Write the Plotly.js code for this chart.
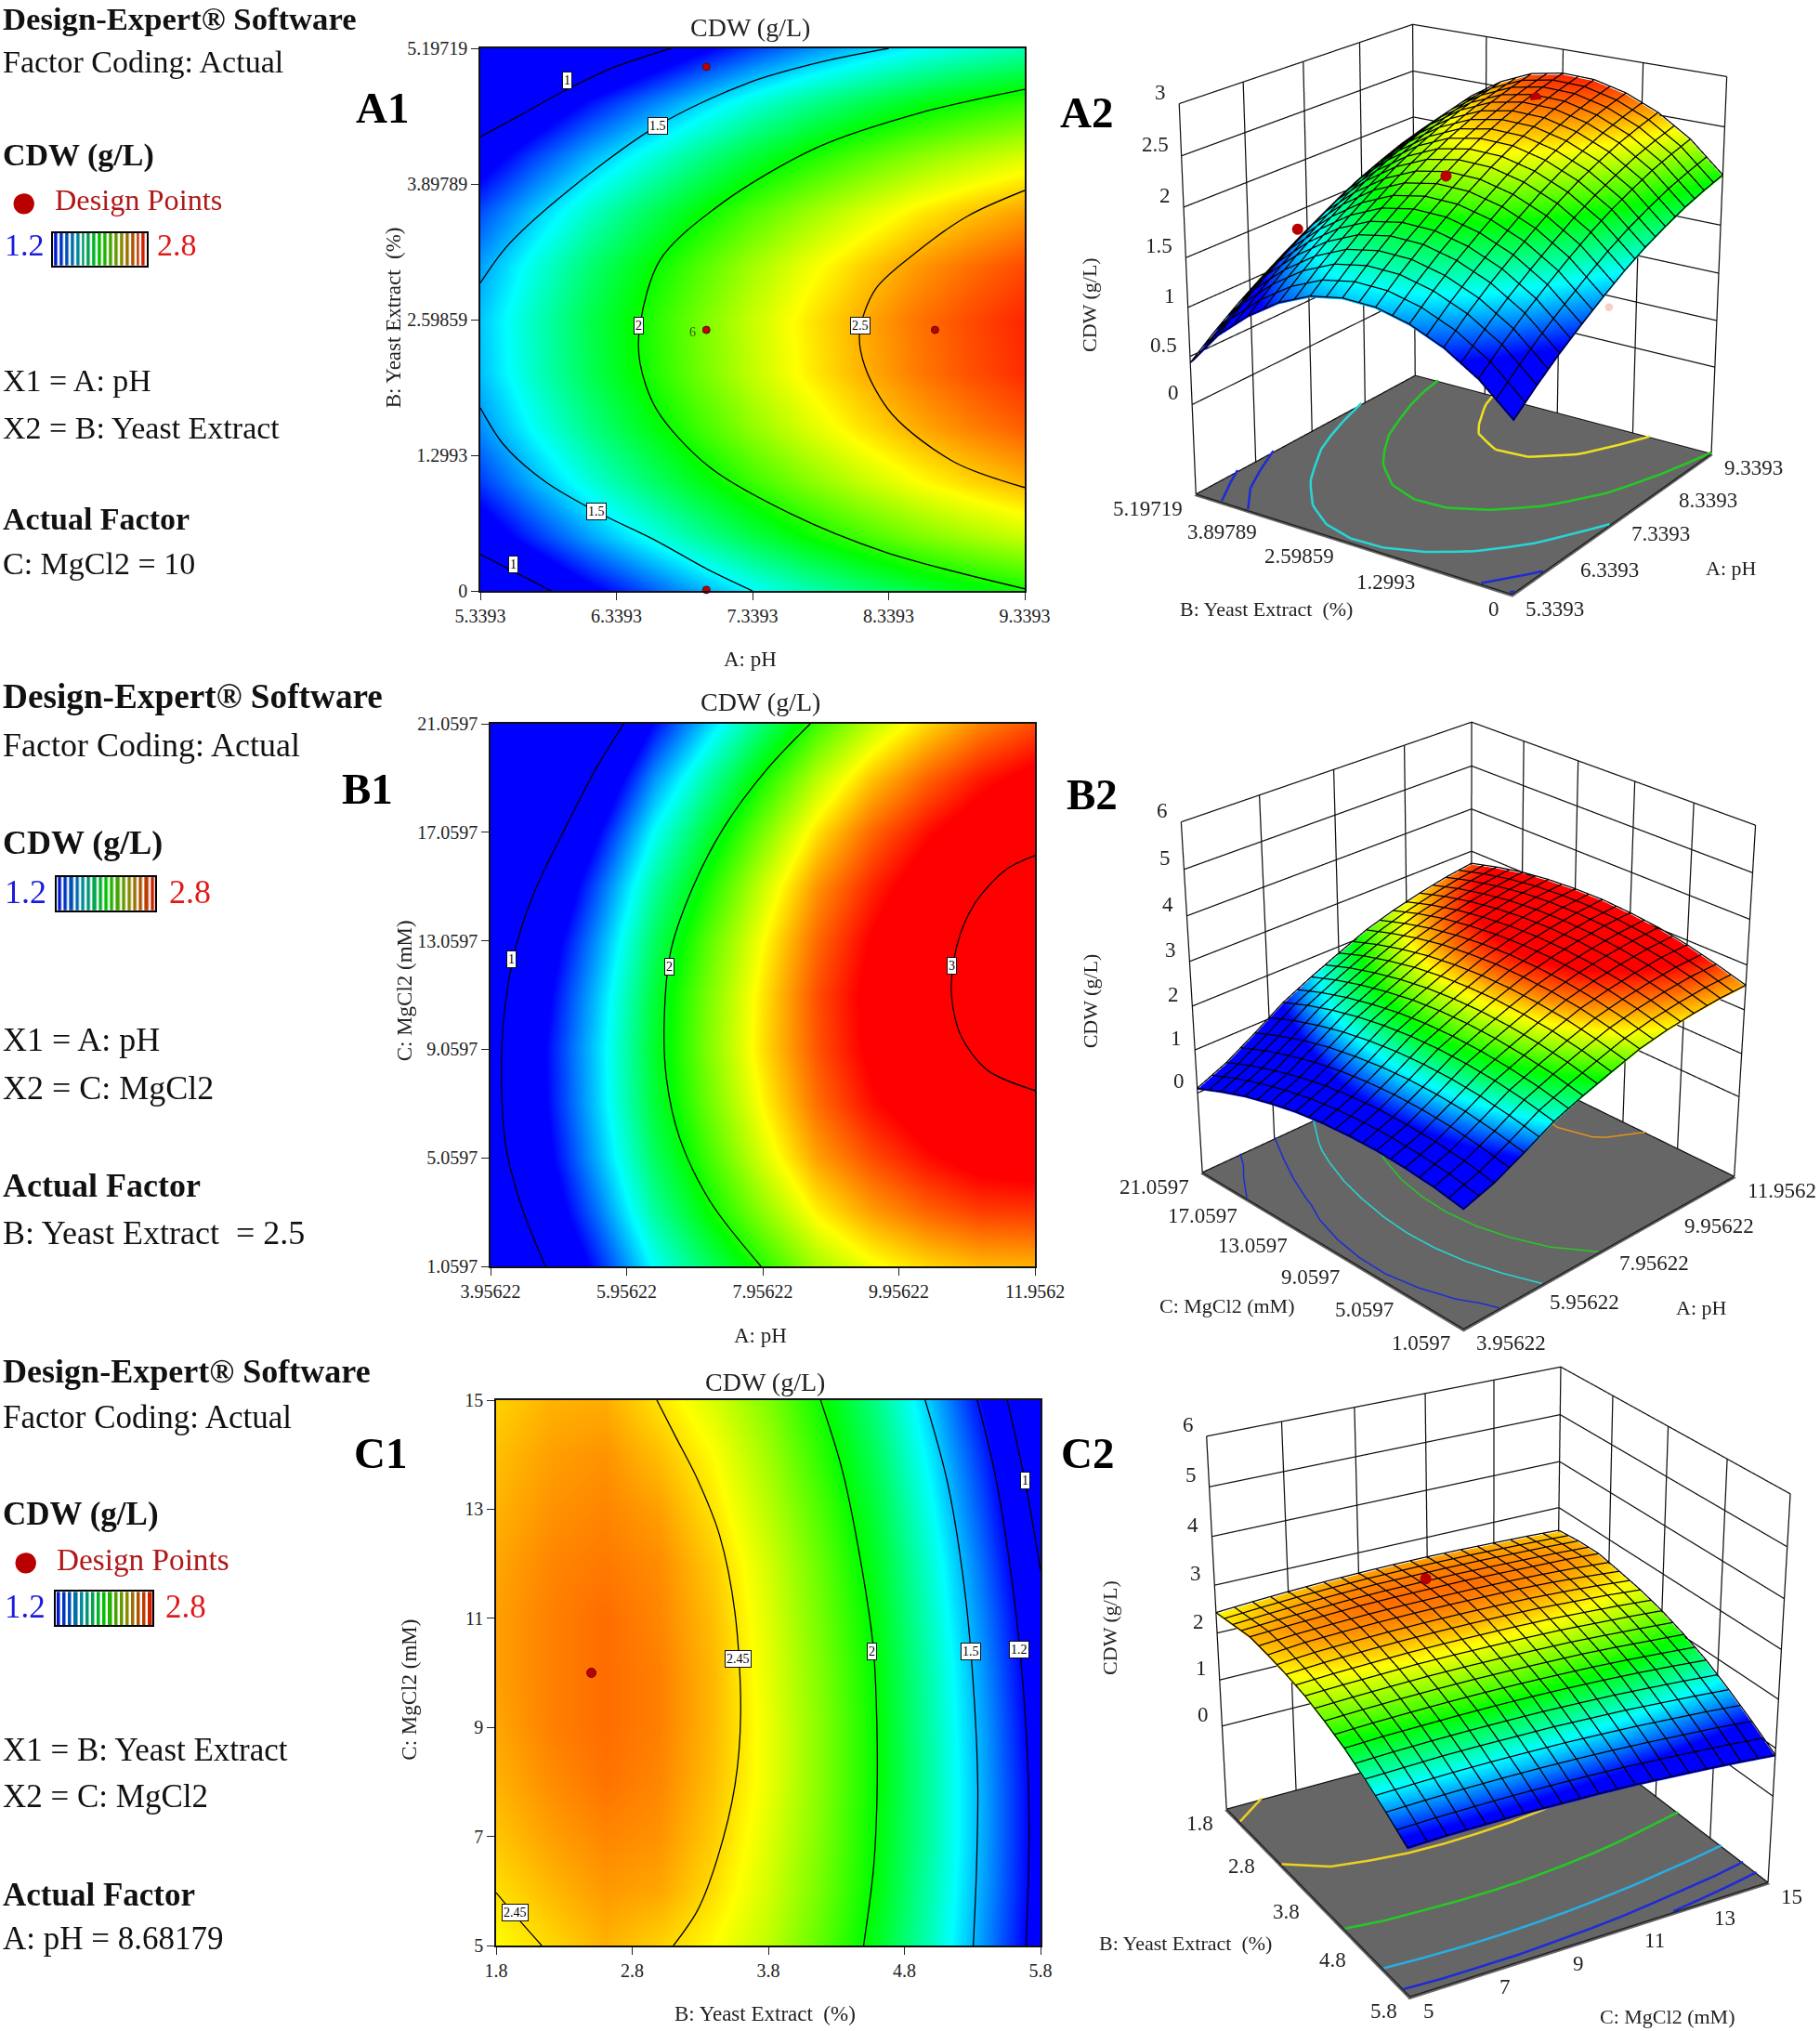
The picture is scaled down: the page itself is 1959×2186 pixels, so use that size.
<!DOCTYPE html>
<html><head><meta charset="utf-8">
<script src="https://cdn.plot.ly/plotly-3.0.1.min.js"></script>
<style>html,body{margin:0;padding:0;background:#fff;overflow:hidden;width:1959px;height:2186px}#g{position:absolute;left:0;top:-1000px}</style>
</head><body><div id="g"></div>
<script>
// ---------- data ----------
const aX=[5.3393,5.7393,6.1393,6.5393,6.9393,7.3393,7.7393,8.1393,8.5393,8.9393,9.3393];
const aY=[0,0.51972,1.03944,1.55916,2.07888,2.59859,3.11831,3.63803,4.15775,4.67747,5.19719];
const aZ=[
[0.73,0.93,1.11,1.27,1.42,1.56,1.68,1.78,1.87,1.94,2.00],
[1.03,1.23,1.41,1.57,1.72,1.86,1.98,2.08,2.17,2.24,2.30],
[1.24,1.44,1.62,1.78,1.93,2.07,2.19,2.29,2.38,2.45,2.51],
[1.38,1.58,1.76,1.92,2.07,2.21,2.33,2.43,2.52,2.59,2.65],
[1.46,1.66,1.84,2.00,2.15,2.29,2.41,2.51,2.60,2.67,2.73],
[1.47,1.67,1.85,2.01,2.16,2.30,2.42,2.52,2.61,2.68,2.74],
[1.41,1.61,1.79,1.95,2.10,2.24,2.36,2.46,2.55,2.62,2.68],
[1.27,1.47,1.65,1.81,1.96,2.10,2.22,2.32,2.41,2.48,2.54],
[1.06,1.26,1.44,1.60,1.75,1.89,2.01,2.11,2.20,2.27,2.33],
[0.79,0.99,1.17,1.33,1.48,1.62,1.74,1.84,1.93,2.00,2.06],
[0.42,0.62,0.80,0.96,1.11,1.25,1.37,1.47,1.56,1.63,1.69]];
const bX=[3.95622,4.75622,5.55622,6.35622,7.15622,7.95622,8.75622,9.55622,10.35622,11.15622,11.95622];
const bY=[1.0597,3.0597,5.0597,7.0597,9.0597,11.0597,13.0597,15.0597,17.0597,19.0597,21.0597];
const bZ=[
[.72,.94,1.26,1.61,1.85,2.06,2.26,2.38,2.46,2.51,2.52],
[.84,1.07,1.39,1.75,2.00,2.22,2.42,2.55,2.64,2.70,2.71],
[.91,1.15,1.49,1.85,2.10,2.34,2.55,2.68,2.78,2.85,2.87],
[.95,1.19,1.54,1.91,2.17,2.41,2.63,2.78,2.88,2.95,2.99],
[.94,1.20,1.55,1.93,2.20,2.45,2.67,2.83,2.94,3.02,3.06],
[.90,1.16,1.52,1.91,2.19,2.44,2.68,2.84,2.96,3.05,3.10],
[.82,1.09,1.45,1.85,2.14,2.40,2.64,2.81,2.94,3.04,3.09],
[.69,.97,1.35,1.75,2.04,2.32,2.57,2.74,2.88,2.99,3.05],
[.53,.81,1.20,1.61,1.91,2.19,2.45,2.64,2.78,2.89,2.97],
[.32,.62,1.01,1.43,1.74,2.03,2.29,2.49,2.64,2.76,2.84],
[.08,.38,.78,1.21,1.53,1.82,2.10,2.30,2.46,2.59,2.68]];
const cX=[1.8,2.2,2.6,3.0,3.4,3.8,4.2,4.6,5.0,5.4,5.8];
const cY=[5,6,7,8,9,10,11,12,13,14,15];
const cZ=[
[2.40,2.46,2.52,2.47,2.40,2.30,2.14,1.95,1.70,1.42,1.11],
[2.45,2.51,2.56,2.54,2.45,2.33,2.17,1.98,1.72,1.44,1.13],
[2.49,2.55,2.59,2.57,2.48,2.35,2.19,1.99,1.74,1.45,1.13],
[2.52,2.58,2.62,2.59,2.50,2.37,2.20,2.00,1.74,1.45,1.13],
[2.54,2.60,2.63,2.60,2.51,2.37,2.20,2.00,1.73,1.44,1.11],
[2.55,2.60,2.63,2.60,2.51,2.36,2.19,1.99,1.72,1.42,1.09],
[2.55,2.60,2.63,2.59,2.50,2.35,2.17,1.97,1.69,1.39,1.06],
[2.54,2.59,2.61,2.58,2.48,2.33,2.15,1.94,1.66,1.35,1.01],
[2.52,2.57,2.59,2.55,2.44,2.29,2.11,1.90,1.61,1.30,0.96],
[2.50,2.55,2.57,2.50,2.40,2.25,2.06,1.85,1.56,1.25,0.90],
[2.47,2.52,2.53,2.44,2.34,2.20,2.01,1.79,1.50,1.18,0.83]];
const aXTicks=[5.3393,6.3393,7.3393,8.3393,9.3393], aXText=['5.3393','6.3393','7.3393','8.3393','9.3393'];
const aYTicks=[0,1.2993,2.59859,3.89789,5.19719], aYText=['0','1.2993','2.59859','3.89789','5.19719'];
const bXTicks=[3.95622,5.95622,7.95622,9.95622,11.95622], bXText=['3.95622','5.95622','7.95622','9.95622','11.9562'];
const bYTicks=[1.0597,5.0597,9.0597,13.0597,17.0597,21.0597], bYText=['1.0597','5.0597','9.0597','13.0597','17.0597','21.0597'];
const cXTicks=[1.8,2.8,3.8,4.8,5.8], cXText=['1.8','2.8','3.8','4.8','5.8'];
const cYTicks=[5,7,9,11,13,15], cYText=['5','7','9','11','13','15'];
const aZTicks=[0,0.5,1,1.5,2,2.5,3], aZText=['0','0.5','1','1.5','2','2.5','3'];
const bZTicks=[0,1,2,3,4,5,6], bZText=['0','1','2','3','4','5','6'];
const cZTicks=[0,1,2,3,4,5,6], cZText=['0','1','2','3','4','5','6'];
// contour curves of the 2D panels
const aCurves=[
 [[5.34,5.61,5.986,6.31,6.74],[4.35,4.54,4.81,5.01,5.197]],
 [[5.34,5.585,5.86],[0.35,0.186,0]],
 [[5.34,5.535,5.91,6.64,7.31,7.865,8.34],[2.95,3.30,3.754,4.455,4.867,5.073,5.197]],
 [[5.34,5.51,5.81,6.186,6.61,7.01,7.34],[1.753,1.402,1.052,0.763,0.495,0.206,0]],
 [[9.339,8.567,7.815,7.113,6.663,6.512,6.512,6.637,7.013,7.615,8.316,9.339],[4.805,4.578,4.248,3.712,3.176,2.545,2.186,1.732,1.196,0.742,0.371,0.02]],
 [[9.339,8.918,8.517,8.241,8.126,8.166,8.366,8.817,9.339],[3.836,3.589,3.217,2.887,2.475,2.145,1.691,1.237,0.99]]];
const bCurves=[
 [[5.914,5.507,5.055,4.602,4.312,4.15,4.118,4.182,4.409,4.764],[21.06,19.41,17.22,14.87,12.68,10.17,7.825,5.476,3.284,1.06]],
 [[8.654,8.027,7.381,6.929,6.605,6.509,6.541,6.735,7.187,7.93],[21.06,19.41,17.22,15.03,12.68,10.17,7.98,5.79,3.44,1.06]],
 [[11.956,11.517,11.064,10.805,10.728,10.87,11.258,11.956],[16.2,15.66,14.4,12.84,11.11,9.55,8.29,7.54]]];
const cCurves=[
 [[2.981,3.119,3.281,3.442,3.555,3.597,3.555,3.426,3.281,3.103],[15,14.33,13.54,12.52,11.10,9.28,7.94,6.60,5.65,5]],
 [[1.8,1.958,2.135],[5.97,5.5,5]],
 [[4.184,4.345,4.49,4.571,4.597,4.597,4.571,4.5],[15,13.70,11.88,10.47,9.12,7.55,6.36,5]],
 [[4.952,5.119,5.248,5.313,5.339,5.329,5.306],[15,13.46,11.41,9.52,7.94,6.36,5]],
 [[5.335,5.474,5.619,5.69,5.716,5.694],[15,13.54,11.10,9.12,7.15,5]],
 [[5.555,5.684,5.8],[15,13.54,11.88]]];
const aFloorLevels=[0.75,1,1.5,2,2.5], aFloorColors=['#1c2bd8','#1c2bd8','#27d6d6','#25c925','#efe020'];
const bFloorLevels=[0.5,1,1.5,2,3], bFloorColors=['#1c2bd8','#1c2bd8','#27d6d6','#25c925','#e89020'];
const cFloorLevels=[1,1.2,1.5,2,2.45], cFloorColors=['#1c2bd8','#1c2bd8','#27aee6','#25c925','#efd020'];
const aPtsX=[7,7,8.68,7], aPtsY=[5.02,2.5,2.5,0.01];
const cPtsX=[2.5], cPtsY=[10];
const a3PtsX=[7,7,8.68], a3PtsY=[5.02,2.5,2.5], a3PtsZ=[1.38,2.25,2.65];
const a3PalePtX=[7.05], a3PalePtY=[0], a3PalePtZ=[1.3];
const c3PtsX=[2.5], c3PtsY=[10], c3PtsZ=[2.8];
const aLabels=[['1',5.98,4.89],['1.5',6.64,4.45],['2',6.5,2.54],['2.5',8.13,2.54],['1.5',6.19,0.76],['1',5.58,0.25]];
const bLabels=[['1',4.27,12.37],['2',6.58,12.12],['3',10.73,12.13]];
const cLabels=[['1',5.69,13.52],['1.2',5.64,10.43],['1.5',5.29,10.39],['2',4.56,10.39],['2.45',3.58,10.25],['2.45',1.94,5.6]];
const legendBand=[1.2,1.3,1.4,1.5,1.6,1.7,1.8,1.9,2.0,2.1,2.2,2.3,2.4,2.5,2.6,2.7,2.8];

// ---------- page geometry ----------
const W=1959,OFF=1000,HT=2186+2*OFF;
const SERIF='"Liberation Serif","Times New Roman",serif';
const px=x=>x/W, py=y=>1-(y+OFF)/HT;
const jet=[[0,'#0000ff'],[0.25,'#00ffff'],[0.5,'#00ff00'],[0.75,'#ffff00'],[1,'#ff0000']];
const darkJet=[[0,'#0018d0'],[0.25,'#008a9a'],[0.5,'#00c000'],[0.75,'#8a8a00'],[1,'#d02000']];
const S=1.394;
let data=[],annos=[],layout={};
function T(t,x,y,size,o={}){annos.push({text:t,xref:'paper',yref:'paper',x:px(x),y:py(y),showarrow:false,xanchor:o.anchor||'left',yanchor:'middle',
  font:{family:SERIF,size,color:o.color||'#111'},textangle:o.angle||0});}
function panelText(fs,lines){ lines.forEach(l=>T(l[0],l[1]*S,l[2]*S,fs*(l[3]||1),{color:l[4]})); }
const B=s=>'<b>'+s+'</b>';
panelText(34,[[B('Design-Expert® Software'),1,15,1.02],['Factor Coding: Actual',1,48],[B('CDW (g/L)'),1,120],
 ['Design Points',41,154,.95,'#b01818'],['1.2',2,189,1,'#1a1ae0'],['2.8',120,189,1,'#e01818'],
 ['X1 = A: pH',1,294],['X2 = B: Yeast Extract',1,330],[B('Actual Factor'),1,401],['C: MgCl2 = 10',1,435]]);
panelText(36,[[B('Design-Expert® Software'),1,538,1.035],['Factor Coding: Actual',1,575],[B('CDW (g/L)'),1,651],
 ['1.2',2,689,1,'#1a1ae0'],['2.8',129,689,1,'#e01818'],
 ['X1 = A: pH',1,803],['X2 = C: MgCl2',1,840],[B('Actual Factor'),1,915],['B: Yeast Extract  = 2.5',1,952]]);
panelText(35,[[B('Design-Expert® Software'),1,1059,1.03],['Factor Coding: Actual',1,1094],[B('CDW (g/L)'),1,1169],
 ['Design Points',42,1204,.95,'#b01818'],['1.2',2,1241,1,'#1a1ae0'],['2.8',126,1241,1,'#e01818'],
 ['X1 = B: Yeast Extract',1,1351],['X2 = C: MgCl2',1,1387],[B('Actual Factor'),1,1463],['A: pH = 8.68179',1,1497]]);
T('●',18*S,155*S,52,{anchor:'center',color:'#b80000'});
T('●',20*S,1205*S,52,{anchor:'center',color:'#b80000'});
[['A1',295,83],['A2',839,87],['B1',284,609],['B2',843,613],['C1',294,1122],['C2',840,1122]].forEach(l=>T(B(l[0]),l[1]*S,l[2]*S,47,{anchor:'center',color:'#000'}));

// ---------- 2D contour panels ----------
function panel2D(i,X,Y,Z,xt,xl,yt,yl,curves,labels,box,zmin,zmax,title,xTitle,yTitle,tpos){
  const xa=i===1?'x':'x'+i, ya=i===1?'y':'y'+i;
  data.push({type:'heatmap',x:X,y:Y,z:Z,xaxis:xa,yaxis:ya,zsmooth:'best',zmin,zmax,colorscale:jet,showscale:false,hoverinfo:'skip'});
  curves.forEach(c=>data.push({type:'scatter',mode:'lines',x:c[0],y:c[1],xaxis:xa,yaxis:ya,hoverinfo:'skip',line:{color:'#000',width:1.3,shape:'spline',smoothing:0.9}}));
  const ax=(t,l,r)=>({range:r,tickmode:'array',tickvals:t,ticktext:l,ticks:'outside',ticklen:8,tickcolor:'#222',tickwidth:1,
    showgrid:false,zeroline:false,showline:true,mirror:true,linecolor:'#111',linewidth:1.5,tickfont:{family:SERIF,size:20,color:'#222'}});
  layout['xaxis'+(i===1?'':i)]=Object.assign(ax(xt,xl,[X[0],X[X.length-1]]),{domain:[px(box[0]),px(box[1])],anchor:ya});
  layout['yaxis'+(i===1?'':i)]=Object.assign(ax(yt,yl,[Y[0],Y[Y.length-1]]),{domain:[py(box[3]),py(box[2])],anchor:xa});
  labels.forEach(l=>annos.push({text:l[0],xref:xa,yref:ya,x:l[1],y:l[2],showarrow:false,bgcolor:'#fff',bordercolor:'#111',borderwidth:1,borderpad:1,font:{family:SERIF,size:14,color:'#000'}}));
  T(title,tpos[0]*S,tpos[1]*S,28,{anchor:'center',color:'#222'});
  T(xTitle,tpos[0]*S,tpos[2]*S,23,{anchor:'center',color:'#222'});
  annos.push({text:yTitle,xref:'paper',yref:'paper',x:px(tpos[3]*S),y:py(tpos[4]*S),xanchor:'center',yanchor:'middle',showarrow:false,textangle:-90,font:{family:SERIF,size:23,color:'#222'}});
}
panel2D(1,aX,aY,aZ,aXTicks,aXText,aYTicks,aYText,aCurves,aLabels,[517,1103,52,636],1.15,2.8,'CDW (g/L)','A: pH','B: Yeast Extract  (%)',[579,21,509,304,245]);
panel2D(2,bX,bY,bZ,bXTicks,bXText,bYTicks,bYText,bCurves,bLabels,[528,1114,779,1363],1.2,2.8,'CDW (g/L)','A: pH','C: MgCl2 (mM)',[587,542,1031,312,765]);
panel2D(3,cX,cY,cZ,cXTicks,cXText,cYTicks,cYText,cCurves,cLabels,[534,1120,1507,2094],1.2,2.8,'CDW (g/L)','B: Yeast Extract  (%)','C: MgCl2 (mM)',[591,1067,1555,316,1305]);
annos.push({text:'6',xref:'x',yref:'y',x:6.9,y:2.48,showarrow:false,font:{family:SERIF,size:14,color:'#2a5a00'}});
const dot={color:'#c00000',size:8,line:{color:'#501010',width:1}};
data.push({type:'scatter',mode:'markers',x:aPtsX,y:aPtsY,xaxis:'x',yaxis:'y',marker:dot,cliponaxis:false,hoverinfo:'skip'});
data.push({type:'scatter',mode:'markers',x:cPtsX,y:cPtsY,xaxis:'x3',yaxis:'y3',marker:Object.assign({},dot,{size:10}),hoverinfo:'skip'});

// ---------- legend bands ----------
[[4,[41,113,180,205]],[5,[44,120,677,703]],[6,[43,118,1229,1255]]].forEach(e=>{
  const i=e[0],b=e[1];
  data.push({type:'heatmap',z:[legendBand],xaxis:'x'+i,yaxis:'y'+i,zmin:1.2,zmax:2.8,colorscale:darkJet,showscale:false,xgap:2.5,hoverinfo:'skip'});
  const base={showticklabels:false,ticks:'',showgrid:false,zeroline:false,showline:true,mirror:true,linecolor:'#000',linewidth:1.5,fixedrange:true};
  layout['xaxis'+i]=Object.assign({},base,{domain:[px(b[0]*S),px(b[1]*S)],anchor:'y'+i,range:[-0.5,legendBand.length-0.5]});
  layout['yaxis'+i]=Object.assign({},base,{domain:[py(b[3]*S),py(b[2]*S)],anchor:'x'+i,range:[-0.5,0.5]});
});

// ---------- helpers for 3D ----------
function pushLines(sc,polys,line,maxArc){
  let xs=[],ys=[],zs=[],arc=0;
  const flush=()=>{if(xs.length)data.push({type:'scatter3d',scene:sc,mode:'lines',x:xs,y:ys,z:zs,line,hoverinfo:'skip',showlegend:false});xs=[];ys=[];zs=[];arc=0;};
  polys.forEach(p=>{
    let len=0;for(let i=1;i<p.length;i++)len+=Math.hypot(p[i][0]-p[i-1][0],p[i][1]-p[i-1][1],p[i][2]-p[i-1][2]);
    if(arc+len>maxArc)flush();
    p.forEach(q=>{xs.push(q[0]);ys.push(q[1]);zs.push(q[2]);});xs.push(null);ys.push(null);zs.push(null);arc+=len;
  });
  flush();
}
function floorSegments(X,Y,Z,level,z0){
  const xs=[],ys=[],zs=[];
  for(let j=0;j<Y.length-1;j++)for(let i=0;i<X.length-1;i++){
    const c=[[X[i],Y[j],Z[j][i]],[X[i+1],Y[j],Z[j][i+1]],[X[i+1],Y[j+1],Z[j+1][i+1]],[X[i],Y[j+1],Z[j+1][i]]];
    const hits=[];
    for(let k=0;k<4;k++){const p=c[k],q=c[(k+1)%4];
      if((p[2]<level)!==(q[2]<level)){const t=(level-p[2])/(q[2]-p[2]);hits.push([p[0]+t*(q[0]-p[0]),p[1]+t*(q[1]-p[1])]);}}
    for(let h=0;h+1<hits.length;h+=2){xs.push(hits[h][0],hits[h+1][0],null);ys.push(hits[h][1],hits[h+1][1],null);zs.push(z0,z0,null);}
  }
  return {xs,ys,zs};
}
// mesh lines on the surface: 21 lines each way, following the surface of the read grid
function meshLines(X,Y,Z,eps){
  const n=X.length-1,m=Y.length-1,polys=[];
  const at=(a,b)=>{const i=Math.min(Math.floor(a),n-1),j=Math.min(Math.floor(b),m-1),s=a-i,t=b-j;
    return Z[j][i]*(1-s)*(1-t)+Z[j][i+1]*s*(1-t)+Z[j+1][i]*(1-s)*t+Z[j+1][i+1]*s*t;};
  const pos=(A,a)=>{const i=Math.min(Math.floor(a),A.length-2);return A[i]+(A[i+1]-A[i])*(a-i);};
  for(let dir=0;dir<2;dir++)for(let k=0;k<=20;k++){
    const p=[];
    for(let q=0;q<=10;q++){
      const a=dir?k*n/20:q*n/10,b=dir?q*m/10:k*m/20;
      p.push([pos(X,a),pos(Y,b),at(a,b)+eps]);
    }
    polys.push(p);
  }
  return polys;
}
function panel3D(sc,cfg){
  const {X,Y,Z,xt,xl,yt,yl,zt,zl,z0,z1,xF,xW,yF,yW,eye,halfW,hDom,zAspect,levels,colors,lw,cmin,swap}=cfg;
  const xr=[X[0],X[X.length-1]],yr=[Y[0],Y[Y.length-1]];
  // ranges a hair wider than the box, so lines on the box faces are not clipped away
  const padded=r=>{const d=(r[1]-r[0])*0.004;return [r[0]-d,r[1]+d];};
  const grid=[];
  xt.forEach(x=>grid.push([[x,yW,z0],[x,yW,z1]]));
  yt.forEach(y=>grid.push([[xW,y,z0],[xW,y,z1]]));
  zt.concat([z0]).forEach(z=>grid.push([[xF,yW,z],[xW,yW,z],[xW,yF,z]]));
  pushLines(sc,grid,{color:'#111',width:2.5},45);
  data.push({type:'scatter3d',scene:sc,mode:'lines',x:[xW,xF,xF],y:[yF,yF,yW],z:[z0,z0,z0],line:{color:'#222',width:3},hoverinfo:'skip',showlegend:false});
  const eps=(z1-z0)*0.004;
  levels.forEach((l,k)=>{const s=floorSegments(X,Y,Z,l,z0+eps);
    data.push({type:'scatter3d',scene:sc,mode:'lines',x:s.xs,y:s.ys,z:s.zs,line:{color:colors[k],width:lw},hoverinfo:'skip',showlegend:false});});
  data.push({type:'surface',scene:sc,x:X,y:Y,z:Z,colorscale:jet,cmin:cmin,cmax:2.8,showscale:false,hoverinfo:'skip',
    lighting:{ambient:1,diffuse:0,specular:0,roughness:1,fresnel:0},
    contours:{x:{show:false,highlight:false},y:{show:false,highlight:false},z:{show:false,highlight:false}}});
  pushLines(sc,meshLines(X,Y,Z,(z1-z0)*0.004),{color:'#000',width:2.5},90);
  const nox={showgrid:false,zeroline:false,showticklabels:false,ticks:'',showline:false,showspikes:false,showbackground:false,title:{text:''}};
  const ann=[];
  const tick=(t,x,y,z,ax,xs,ys)=>ann.push({text:t,x,y,z,showarrow:false,xanchor:ax,yanchor:'middle',xshift:xs,yshift:ys,font:{family:SERIF,size:23,color:'#222'}});
  if(!swap){
    xt.forEach((v,k)=>tick(xl[k],v,yF,z0,'left',12,-16));
    yt.forEach((v,k)=>tick(yl[k],xF,v,z0,'right',-12,-16));
    zt.forEach((v,k)=>tick(zl[k],xF,yW,v,'right',-12,12));
  } else {
    xt.forEach((v,k)=>tick(xl[k],v,yF,z0,'right',-12,-16));
    yt.forEach((v,k)=>tick(yl[k],xF,v,z0,'left',12,-16));
    zt.forEach((v,k)=>tick(zl[k],xW,yF,v,'right',-12,12));
  }
  const cy=cfg.cy,cx=cfg.cx;
  layout[sc]={domain:{x:[px(cx-halfW),px(cx+halfW)],y:[py(cy+hDom/2),py(cy-hDom/2)]},
    bgcolor:'rgba(0,0,0,0)',aspectmode:'manual',aspectratio:{x:1,y:1,z:zAspect},
    camera:{eye:{x:eye[0],y:eye[1],z:eye[2]},center:{x:0,y:0,z:0},up:{x:0,y:0,z:1},projection:{type:'perspective'}},
    xaxis:Object.assign({},nox,{range:padded(xr)}),yaxis:Object.assign({},nox,{range:padded(yr)}),
    zaxis:Object.assign({},nox,{range:padded([z0,z1]),showbackground:true,backgroundcolor:'#666666'}),annotations:ann,dragmode:false};
}
const vec=(dir,d)=>dir.map(v=>v*d);
panel3D('scene',{X:aX,Y:aY,Z:aZ,xt:aXTicks,xl:aXText,yt:aYTicks,yl:aYText,zt:aZTicks,zl:aZText,z0:-0.95,z1:3,xF:aX[0],xW:aX[10],yF:aY[0],yW:aY[10],
  eye:vec([-0.78,-0.535,0.348],6),cx:1570,cy:309,halfW:386,hDom:2075,zAspect:1.07,levels:aFloorLevels,colors:aFloorColors,lw:5,cmin:1.15});
panel3D('scene2',{X:bX,Y:bY,Z:bZ,xt:bXTicks,xl:bXText,yt:bYTicks,yl:bYText,zt:bZTicks,zl:bZText,z0:-1.9,z1:6,xF:bX[0],xW:bX[10],yF:bY[0],yW:bY[10],
  eye:vec([-0.619,-0.637,0.46],6),cx:1580,cy:1082,halfW:379,hDom:2107,zAspect:1.01,levels:bFloorLevels,colors:bFloorColors,lw:3,cmin:1.2});
panel3D('scene3',{X:cX,Y:cY,Z:cZ,xt:cXTicks,xl:cXText,yt:cYTicks,yl:cYText,zt:cZTicks,zl:cZText,z0:-1.85,z1:6,xF:cX[10],xW:cX[0],yF:cY[0],yW:cY[10],swap:true,
  eye:vec([0.777,-0.449,0.44],6),cx:1604,cy:1788,halfW:355,hDom:2215,zAspect:1.03,levels:cFloorLevels,colors:cFloorColors,lw:5,cmin:1.2});
data.push({type:'scatter3d',scene:'scene',mode:'markers',x:a3PtsX,y:a3PtsY,z:a3PtsZ,marker:{color:'#b80000',size:7},hoverinfo:'skip',showlegend:false});
data.push({type:'scatter3d',scene:'scene',mode:'markers',x:a3PalePtX,y:a3PalePtY,z:a3PalePtZ,marker:{color:'#f6cfc8',size:5},hoverinfo:'skip',showlegend:false});
data.push({type:'scatter3d',scene:'scene3',mode:'markers',x:c3PtsX,y:c3PtsY,z:c3PtsZ,marker:{color:'#b80000',size:7},hoverinfo:'skip',showlegend:false});
[['B: Yeast Extract  (%)',978,470],['A: pH',1337,439],['C: MgCl2 (mM)',947,1008],['A: pH',1314,1010],['B: Yeast Extract  (%)',915,1500],['C: MgCl2 (mM)',1287,1557]].forEach(l=>T(l[0],l[1]*S,l[2]*S,22,{anchor:'center',color:'#222'}));
[['CDW (g/L)',841,235],['CDW (g/L)',842,773],['CDW (g/L)',857,1257]].forEach(l=>annos.push({text:l[0],xref:'paper',yref:'paper',x:px(l[1]*S),y:py(l[2]*S),xanchor:'center',yanchor:'middle',showarrow:false,textangle:-90,font:{family:SERIF,size:22,color:'#222'}}));

Object.assign(layout,{width:W,height:HT,margin:{l:0,r:0,t:0,b:0,pad:0},paper_bgcolor:'#fff',plot_bgcolor:'#fff',showlegend:false,hovermode:false,annotations:annos});
Plotly.newPlot('g',data,layout,{displayModeBar:false,responsive:false});
</script></body></html>
